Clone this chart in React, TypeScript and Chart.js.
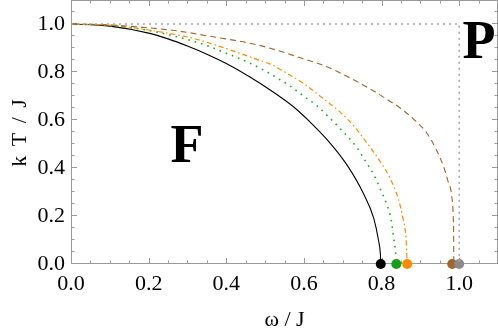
import React, { useEffect, useRef } from "react";
import { Chart, registerables } from "chart.js";

Chart.register(...registerables);

// ---- data ----
const blackX = [0, 0.1, 0.2, 0.25, 0.3, 0.35, 0.4, 0.461, 0.513, 0.573, 0.62, 0.668, 0.71, 0.753, 0.78, 0.792, 0.797, 0.798];
const blackY = [1, 0.991, 0.962, 0.938, 0.908, 0.874, 0.835, 0.779, 0.725, 0.655, 0.585, 0.503, 0.415, 0.295, 0.19, 0.1, 0.04, 0];

const greenX = [0, 0.1, 0.204, 0.3, 0.35, 0.4, 0.45, 0.496, 0.53, 0.564, 0.599, 0.633, 0.663, 0.693, 0.736, 0.758, 0.779, 0.797, 0.813, 0.825, 0.831, 0.836, 0.838];
const greenY = [1, 0.993, 0.972, 0.935, 0.91, 0.878, 0.845, 0.808, 0.776, 0.742, 0.7, 0.66, 0.614, 0.565, 0.486, 0.43, 0.375, 0.3125, 0.25, 0.183, 0.111, 0.05, 0];

const orangeX = [0, 0.1, 0.2, 0.315, 0.41, 0.487, 0.513, 0.556, 0.603, 0.649, 0.692, 0.73, 0.762, 0.796, 0.822, 0.844, 0.855, 0.863, 0.866];
const orangeY = [1, 0.995, 0.975, 0.94, 0.892, 0.848, 0.833, 0.795, 0.748, 0.69, 0.635, 0.572, 0.505, 0.428, 0.357, 0.267, 0.19, 0.107, 0];

const brownX = [0, 0.1, 0.186, 0.28, 0.35, 0.41, 0.461, 0.513, 0.58, 0.659, 0.719, 0.77, 0.814, 0.848, 0.885, 0.917, 0.94, 0.96, 0.972, 0.981, 0.985, 0.9858, 0.986];
const brownY = [1, 0.996, 0.986, 0.97, 0.951, 0.935, 0.92, 0.899, 0.865, 0.822, 0.775, 0.73, 0.686, 0.65, 0.6, 0.545, 0.48, 0.405, 0.34, 0.28, 0.18, 0.1, 0];

const boundaryX = [0, 1, 1];
const boundaryY = [1, 1, 0];

const criticalX = [0.798, 0.838, 0.866, 0.982, 1.0];
const criticalY = [0, 0, 0, 0, 0];
const criticalColors = ["#000000", "#14a014", "#ff8a00", "#a0662e", "#8a8a8a"];

const xTicks = [0, 0.2, 0.4, 0.6, 0.8, 1.0];
const yTicks = [0, 0.2, 0.4, 0.6, 0.8, 1.0];
const axisMin = 0;
const axisMax = 1.1;

const xTitle = "ω / J";
const yTitle = "k T / J";

const pts = (xs: number[], ys: number[]) => xs.map((x, i) => ({ x, y: ys[i] }));

const SERIF = "'Liberation Serif', 'DejaVu Serif', serif";

function drawFrame(chart: any) {
  const { ctx, chartArea } = chart;
  const { left, right, top, bottom } = chartArea;
  const xs = chart.scales.x;
  const ys = chart.scales.y;
  ctx.save();
  ctx.setLineDash([]);
  ctx.strokeStyle = "#9a9a9a";
  ctx.lineWidth = 1;
  ctx.beginPath();
  ctx.moveTo(left + 0.5, top + 0.5);
  ctx.lineTo(right - 0.5, top + 0.5);
  ctx.lineTo(right - 0.5, bottom - 0.5);
  ctx.lineTo(left + 0.5, bottom - 0.5);
  ctx.closePath();
  for (let i = 0; i <= 22; i++) {
    const v = i * 0.05;
    const major = i % 4 === 0;
    const len = major ? 6 : 3.5;
    const px = Math.round(xs.getPixelForValue(v)) + 0.5;
    const py = Math.round(ys.getPixelForValue(v)) - 0.5;
    if (px >= left && px <= right) {
      ctx.moveTo(px, bottom);
      ctx.lineTo(px, bottom - len);
      ctx.moveTo(px, top);
      ctx.lineTo(px, top + len);
    }
    if (py >= top && py <= bottom) {
      ctx.moveTo(left, py);
      ctx.lineTo(left + len, py);
      ctx.moveTo(right, py);
      ctx.lineTo(right - len, py);
    }
  }
  ctx.stroke();
  ctx.restore();
}

const framePlugin = {
  id: "phaseFrame",
  beforeDraw(chart: any) {
    drawFrame(chart);
  },
  afterDraw(chart: any) {
    const { ctx, chartArea } = chart;
    const xs = chart.scales.x;
    const ys = chart.scales.y;
    ctx.save();
    ctx.fillStyle = "#000";
    ctx.font = "bold 54px " + SERIF;
    ctx.textAlign = "center";
    ctx.textBaseline = "alphabetic";
    ctx.fillText("F", xs.getPixelForValue(0.299), ys.getPixelForValue(0.425));
    ctx.fillText("P", xs.getPixelForValue(1.051), ys.getPixelForValue(0.858));
    // axis titles
    ctx.font = "22px " + SERIF;
    ctx.textBaseline = "middle";
    ctx.fillText(xTitle, (chartArea.left + chartArea.right) / 2, 320);
    ctx.translate(20, (chartArea.top + chartArea.bottom) / 2);
    ctx.rotate(-Math.PI / 2);
    try {
      (ctx as any).letterSpacing = "2px";
    } catch (e) {}
    ctx.fillText(yTitle, 0, 0);
    ctx.restore();
  },
};

export default function App() {
  const ref = useRef<HTMLCanvasElement | null>(null);
  useEffect(() => {
    document.body.style.margin = "0";
    const canvas = ref.current;
    if (!canvas) return;
    const lineDs = (label: string, xs: number[], ys: number[], color: string, dash: number[], width: number) => ({
      type: "line" as const,
      label,
      data: pts(xs, ys),
      borderColor: color,
      backgroundColor: color,
      borderWidth: width,
      borderDash: dash,
      pointRadius: 0,
      fill: false,
      cubicInterpolationMode: "monotone" as const,
    });
    const zeroPad = (s: any) => {
      s.paddingTop = 0;
      s.paddingBottom = 0;
      s.paddingLeft = 0;
      s.paddingRight = 0;
    };
    const boundary = lineDs("boundary", boundaryX, boundaryY, "#a8a8a8", [2, 4], 1.6) as any;
    boundary.cubicInterpolationMode = "default";
    boundary.tension = 0;
    const chart = new Chart(canvas, {
      type: "line",
      data: {
        datasets: [
          boundary,
          lineDs("brown", brownX, brownY, "#a0662e", [6, 4], 1.1),
          lineDs("orange", orangeX, orangeY, "#ff8a00", [5, 3, 1.5, 3], 1.2),
          lineDs("green", greenX, greenY, "#14b014", [1.6, 5], 1.6),
          lineDs("black", blackX, blackY, "#000000", [], 1.1),
          {
            type: "scatter" as const,
            label: "critical",
            data: pts(criticalX, criticalY),
            pointRadius: 5,
            pointBackgroundColor: criticalColors,
            pointBorderWidth: 0,
            borderWidth: 0,
            showLine: false,
            clip: false,
          } as any,
        ],
      },
      options: {
        responsive: false,
        animation: false,
        maintainAspectRatio: false,
        layout: { padding: 0, autoPadding: false },
        plugins: { legend: { display: false }, tooltip: { enabled: false } },
        scales: {
          x: {
            type: "linear",
            min: axisMin,
            max: axisMax,
            grid: { display: false, drawTicks: false },
            border: { display: false },
            afterBuildTicks: (s: any) => {
              s.ticks = xTicks.map((v) => ({ value: v }));
            },
            afterFit: (s: any) => {
              s.height = 68;
              zeroPad(s);
            },
            ticks: {
              padding: 7,
              color: "#000",
              font: { family: SERIF, size: 22 },
              maxRotation: 0,
              callback: (v: any) => Number(v).toFixed(1),
            },
          },
          y: {
            type: "linear",
            min: axisMin,
            max: axisMax,
            grid: { display: false, drawTicks: false },
            border: { display: false },
            afterBuildTicks: (s: any) => {
              s.ticks = yTicks.map((v) => ({ value: v }));
            },
            afterFit: (s: any) => {
              s.width = 71;
              zeroPad(s);
            },
            ticks: {
              padding: 6,
              color: "#000",
              font: { family: SERIF, size: 22 },
              callback: (v: any) => Number(v).toFixed(1),
            },
          },
        },
      },
      plugins: [framePlugin],
    });
    return () => chart.destroy();
  }, []);
  return (
    <div style={{ position: "fixed", left: 0, top: 0, width: 498, height: 332 }}>
      <canvas ref={ref} width={498} height={332} style={{ display: "block", width: 498, height: 332 }} />
    </div>
  );
}
